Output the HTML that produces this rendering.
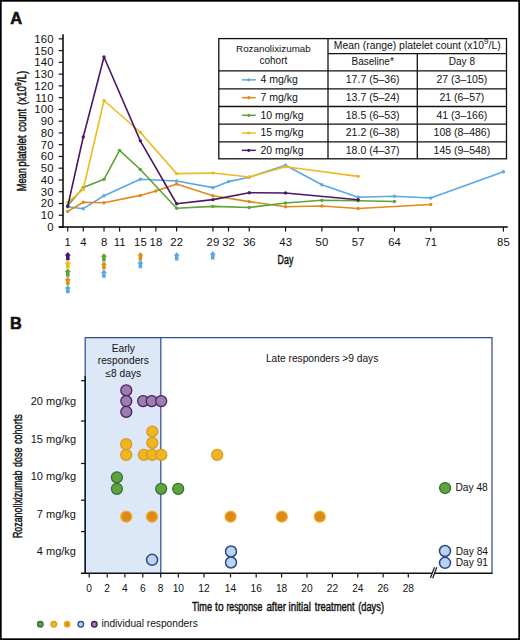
<!DOCTYPE html>
<html><head><meta charset="utf-8"><style>
html,body{margin:0;padding:0;background:#fff;}
body{width:520px;height:640px;overflow:hidden;}
svg{display:block;font-family:"Liberation Sans", sans-serif;}
</style></head><body>
<svg width="520" height="640" viewBox="0 0 520 640">
<rect x="0" y="0" width="520" height="640" fill="#fff"/>
<text x="10.2" y="24" font-weight="bold" font-size="16.5" fill="#111" stroke="#111" stroke-width="0.6">A</text>
<line x1="63" y1="34.3" x2="63" y2="227.7" stroke="#000" stroke-width="1.5"/>
<line x1="58.7" y1="227.00" x2="63" y2="227.00" stroke="#111" stroke-width="1.2"/>
<text x="53.6" y="231.00" text-anchor="end" font-size="11.3" letter-spacing="0.15" fill="#111">0</text>
<line x1="58.7" y1="215.24" x2="63" y2="215.24" stroke="#111" stroke-width="1.2"/>
<text x="53.6" y="219.24" text-anchor="end" font-size="11.3" letter-spacing="0.15" fill="#111">10</text>
<line x1="58.7" y1="203.48" x2="63" y2="203.48" stroke="#111" stroke-width="1.2"/>
<text x="53.6" y="207.48" text-anchor="end" font-size="11.3" letter-spacing="0.15" fill="#111">20</text>
<line x1="58.7" y1="191.72" x2="63" y2="191.72" stroke="#111" stroke-width="1.2"/>
<text x="53.6" y="195.72" text-anchor="end" font-size="11.3" letter-spacing="0.15" fill="#111">30</text>
<line x1="58.7" y1="179.96" x2="63" y2="179.96" stroke="#111" stroke-width="1.2"/>
<text x="53.6" y="183.96" text-anchor="end" font-size="11.3" letter-spacing="0.15" fill="#111">40</text>
<line x1="58.7" y1="168.20" x2="63" y2="168.20" stroke="#111" stroke-width="1.2"/>
<text x="53.6" y="172.20" text-anchor="end" font-size="11.3" letter-spacing="0.15" fill="#111">50</text>
<line x1="58.7" y1="156.44" x2="63" y2="156.44" stroke="#111" stroke-width="1.2"/>
<text x="53.6" y="160.44" text-anchor="end" font-size="11.3" letter-spacing="0.15" fill="#111">60</text>
<line x1="58.7" y1="144.68" x2="63" y2="144.68" stroke="#111" stroke-width="1.2"/>
<text x="53.6" y="148.68" text-anchor="end" font-size="11.3" letter-spacing="0.15" fill="#111">70</text>
<line x1="58.7" y1="132.92" x2="63" y2="132.92" stroke="#111" stroke-width="1.2"/>
<text x="53.6" y="136.92" text-anchor="end" font-size="11.3" letter-spacing="0.15" fill="#111">80</text>
<line x1="58.7" y1="121.16" x2="63" y2="121.16" stroke="#111" stroke-width="1.2"/>
<text x="53.6" y="125.16" text-anchor="end" font-size="11.3" letter-spacing="0.15" fill="#111">90</text>
<line x1="58.7" y1="109.40" x2="63" y2="109.40" stroke="#111" stroke-width="1.2"/>
<text x="53.6" y="113.40" text-anchor="end" font-size="11.3" letter-spacing="0.15" fill="#111">100</text>
<line x1="58.7" y1="97.64" x2="63" y2="97.64" stroke="#111" stroke-width="1.2"/>
<text x="53.6" y="101.64" text-anchor="end" font-size="11.3" letter-spacing="0.15" fill="#111">110</text>
<line x1="58.7" y1="85.88" x2="63" y2="85.88" stroke="#111" stroke-width="1.2"/>
<text x="53.6" y="89.88" text-anchor="end" font-size="11.3" letter-spacing="0.15" fill="#111">120</text>
<line x1="58.7" y1="74.12" x2="63" y2="74.12" stroke="#111" stroke-width="1.2"/>
<text x="53.6" y="78.12" text-anchor="end" font-size="11.3" letter-spacing="0.15" fill="#111">130</text>
<line x1="58.7" y1="62.36" x2="63" y2="62.36" stroke="#111" stroke-width="1.2"/>
<text x="53.6" y="66.36" text-anchor="end" font-size="11.3" letter-spacing="0.15" fill="#111">140</text>
<line x1="58.7" y1="50.60" x2="63" y2="50.60" stroke="#111" stroke-width="1.2"/>
<text x="53.6" y="54.60" text-anchor="end" font-size="11.3" letter-spacing="0.15" fill="#111">150</text>
<line x1="58.7" y1="38.84" x2="63" y2="38.84" stroke="#111" stroke-width="1.2"/>
<text x="53.6" y="42.84" text-anchor="end" font-size="11.3" letter-spacing="0.15" fill="#111">160</text>
<line x1="58.7" y1="227.0" x2="507.7" y2="227.0" stroke="#000" stroke-width="1.5"/>
<line x1="67.70" y1="227.0" x2="67.70" y2="231.6" stroke="#111" stroke-width="1.2"/>
<text x="67.80" y="245.9" text-anchor="middle" font-size="11.3" letter-spacing="0.15" fill="#111">1</text>
<line x1="83.26" y1="227.0" x2="83.26" y2="231.6" stroke="#111" stroke-width="1.2"/>
<text x="83.36" y="245.9" text-anchor="middle" font-size="11.3" letter-spacing="0.15" fill="#111">4</text>
<line x1="104.01" y1="227.0" x2="104.01" y2="231.6" stroke="#111" stroke-width="1.2"/>
<text x="104.11" y="245.9" text-anchor="middle" font-size="11.3" letter-spacing="0.15" fill="#111">8</text>
<line x1="119.57" y1="227.0" x2="119.57" y2="231.6" stroke="#111" stroke-width="1.2"/>
<text x="119.67" y="245.9" text-anchor="middle" font-size="11.3" letter-spacing="0.15" fill="#111">11</text>
<line x1="140.32" y1="227.0" x2="140.32" y2="231.6" stroke="#111" stroke-width="1.2"/>
<text x="140.42" y="245.9" text-anchor="middle" font-size="11.3" letter-spacing="0.15" fill="#111">15</text>
<line x1="155.88" y1="227.0" x2="155.88" y2="231.6" stroke="#111" stroke-width="1.2"/>
<text x="155.98" y="245.9" text-anchor="middle" font-size="11.3" letter-spacing="0.15" fill="#111">18</text>
<line x1="176.63" y1="227.0" x2="176.63" y2="231.6" stroke="#111" stroke-width="1.2"/>
<text x="176.73" y="245.9" text-anchor="middle" font-size="11.3" letter-spacing="0.15" fill="#111">22</text>
<line x1="212.94" y1="227.0" x2="212.94" y2="231.6" stroke="#111" stroke-width="1.2"/>
<text x="213.04" y="245.9" text-anchor="middle" font-size="11.3" letter-spacing="0.15" fill="#111">29</text>
<line x1="228.50" y1="227.0" x2="228.50" y2="231.6" stroke="#111" stroke-width="1.2"/>
<text x="228.60" y="245.9" text-anchor="middle" font-size="11.3" letter-spacing="0.15" fill="#111">32</text>
<line x1="249.25" y1="227.0" x2="249.25" y2="231.6" stroke="#111" stroke-width="1.2"/>
<text x="249.34" y="245.9" text-anchor="middle" font-size="11.3" letter-spacing="0.15" fill="#111">36</text>
<line x1="285.55" y1="227.0" x2="285.55" y2="231.6" stroke="#111" stroke-width="1.2"/>
<text x="285.65" y="245.9" text-anchor="middle" font-size="11.3" letter-spacing="0.15" fill="#111">43</text>
<line x1="321.86" y1="227.0" x2="321.86" y2="231.6" stroke="#111" stroke-width="1.2"/>
<text x="321.96" y="245.9" text-anchor="middle" font-size="11.3" letter-spacing="0.15" fill="#111">50</text>
<line x1="358.17" y1="227.0" x2="358.17" y2="231.6" stroke="#111" stroke-width="1.2"/>
<text x="358.27" y="245.9" text-anchor="middle" font-size="11.3" letter-spacing="0.15" fill="#111">57</text>
<line x1="394.48" y1="227.0" x2="394.48" y2="231.6" stroke="#111" stroke-width="1.2"/>
<text x="394.58" y="245.9" text-anchor="middle" font-size="11.3" letter-spacing="0.15" fill="#111">64</text>
<line x1="430.79" y1="227.0" x2="430.79" y2="231.6" stroke="#111" stroke-width="1.2"/>
<text x="430.89" y="245.9" text-anchor="middle" font-size="11.3" letter-spacing="0.15" fill="#111">71</text>
<line x1="503.41" y1="227.0" x2="503.41" y2="231.6" stroke="#111" stroke-width="1.2"/>
<text x="503.51" y="245.9" text-anchor="middle" font-size="11.3" letter-spacing="0.15" fill="#111">85</text>
<polyline points="67.70,206.68 83.26,208.68 104.01,195.75 140.32,179.28 176.63,181.05 212.94,187.63 228.50,181.64 249.25,177.28 285.55,165.29 321.86,184.81 358.17,197.28 394.48,196.22 430.79,197.98 503.41,171.76" fill="none" stroke="#5aa8e6" stroke-width="1.6" stroke-linejoin="round"/>
<circle cx="67.70" cy="206.68" r="1.7" fill="#5aa8e6"/>
<circle cx="83.26" cy="208.68" r="1.7" fill="#5aa8e6"/>
<circle cx="104.01" cy="195.75" r="1.7" fill="#5aa8e6"/>
<circle cx="140.32" cy="179.28" r="1.7" fill="#5aa8e6"/>
<circle cx="176.63" cy="181.05" r="1.7" fill="#5aa8e6"/>
<circle cx="212.94" cy="187.63" r="1.7" fill="#5aa8e6"/>
<circle cx="228.50" cy="181.64" r="1.7" fill="#5aa8e6"/>
<circle cx="249.25" cy="177.28" r="1.7" fill="#5aa8e6"/>
<circle cx="285.55" cy="165.29" r="1.7" fill="#5aa8e6"/>
<circle cx="321.86" cy="184.81" r="1.7" fill="#5aa8e6"/>
<circle cx="358.17" cy="197.28" r="1.7" fill="#5aa8e6"/>
<circle cx="394.48" cy="196.22" r="1.7" fill="#5aa8e6"/>
<circle cx="430.79" cy="197.98" r="1.7" fill="#5aa8e6"/>
<circle cx="503.41" cy="171.76" r="1.7" fill="#5aa8e6"/>
<polyline points="67.70,211.39 83.26,202.22 104.01,202.80 140.32,195.40 155.88,191.04 176.63,183.99 212.94,195.75 249.25,201.63 285.55,206.80 321.86,205.98 358.17,208.45 430.79,204.45" fill="none" stroke="#e08a1c" stroke-width="1.6" stroke-linejoin="round"/>
<circle cx="67.70" cy="211.39" r="1.7" fill="#e08a1c"/>
<circle cx="83.26" cy="202.22" r="1.7" fill="#e08a1c"/>
<circle cx="104.01" cy="202.80" r="1.7" fill="#e08a1c"/>
<circle cx="140.32" cy="195.40" r="1.7" fill="#e08a1c"/>
<circle cx="155.88" cy="191.04" r="1.7" fill="#e08a1c"/>
<circle cx="176.63" cy="183.99" r="1.7" fill="#e08a1c"/>
<circle cx="212.94" cy="195.75" r="1.7" fill="#e08a1c"/>
<circle cx="249.25" cy="201.63" r="1.7" fill="#e08a1c"/>
<circle cx="285.55" cy="206.80" r="1.7" fill="#e08a1c"/>
<circle cx="321.86" cy="205.98" r="1.7" fill="#e08a1c"/>
<circle cx="358.17" cy="208.45" r="1.7" fill="#e08a1c"/>
<circle cx="430.79" cy="204.45" r="1.7" fill="#e08a1c"/>
<polyline points="67.70,205.74 83.26,187.52 104.01,179.28 119.57,150.35 140.32,169.52 176.63,208.21 212.94,206.33 249.25,207.51 285.55,203.04 321.86,200.22 358.17,200.80 394.48,201.51" fill="none" stroke="#5ba436" stroke-width="1.6" stroke-linejoin="round"/>
<circle cx="67.70" cy="205.74" r="1.7" fill="#5ba436"/>
<circle cx="83.26" cy="187.52" r="1.7" fill="#5ba436"/>
<circle cx="104.01" cy="179.28" r="1.7" fill="#5ba436"/>
<circle cx="119.57" cy="150.35" r="1.7" fill="#5ba436"/>
<circle cx="140.32" cy="169.52" r="1.7" fill="#5ba436"/>
<circle cx="176.63" cy="208.21" r="1.7" fill="#5ba436"/>
<circle cx="212.94" cy="206.33" r="1.7" fill="#5ba436"/>
<circle cx="249.25" cy="207.51" r="1.7" fill="#5ba436"/>
<circle cx="285.55" cy="203.04" r="1.7" fill="#5ba436"/>
<circle cx="321.86" cy="200.22" r="1.7" fill="#5ba436"/>
<circle cx="358.17" cy="200.80" r="1.7" fill="#5ba436"/>
<circle cx="394.48" cy="201.51" r="1.7" fill="#5ba436"/>
<polyline points="67.70,202.57 83.26,189.16 104.01,100.49 140.32,132.24 176.63,173.64 212.94,172.93 249.25,177.05 285.55,166.70 358.17,176.34" fill="none" stroke="#efba1c" stroke-width="1.6" stroke-linejoin="round"/>
<circle cx="67.70" cy="202.57" r="1.7" fill="#efba1c"/>
<circle cx="83.26" cy="189.16" r="1.7" fill="#efba1c"/>
<circle cx="104.01" cy="100.49" r="1.7" fill="#efba1c"/>
<circle cx="140.32" cy="132.24" r="1.7" fill="#efba1c"/>
<circle cx="176.63" cy="173.64" r="1.7" fill="#efba1c"/>
<circle cx="212.94" cy="172.93" r="1.7" fill="#efba1c"/>
<circle cx="249.25" cy="177.05" r="1.7" fill="#efba1c"/>
<circle cx="285.55" cy="166.70" r="1.7" fill="#efba1c"/>
<circle cx="358.17" cy="176.34" r="1.7" fill="#efba1c"/>
<polyline points="67.70,206.33 83.26,136.95 104.01,56.98 140.32,140.83 176.63,203.74 212.94,199.63 249.25,192.69 285.55,192.93 358.17,199.75" fill="none" stroke="#4b1766" stroke-width="1.6" stroke-linejoin="round"/>
<circle cx="67.70" cy="206.33" r="1.7" fill="#4b1766"/>
<circle cx="83.26" cy="136.95" r="1.7" fill="#4b1766"/>
<circle cx="104.01" cy="56.98" r="1.7" fill="#4b1766"/>
<circle cx="140.32" cy="140.83" r="1.7" fill="#4b1766"/>
<circle cx="176.63" cy="203.74" r="1.7" fill="#4b1766"/>
<circle cx="212.94" cy="199.63" r="1.7" fill="#4b1766"/>
<circle cx="249.25" cy="192.69" r="1.7" fill="#4b1766"/>
<circle cx="285.55" cy="192.93" r="1.7" fill="#4b1766"/>
<circle cx="358.17" cy="199.75" r="1.7" fill="#4b1766"/>
<path d="M67.80,252.10 L70.90,255.50 L69.60,255.50 L69.60,260.30 L66.00,260.30 L66.00,255.50 L64.70,255.50 Z" fill="#4b1766"/>
<path d="M67.80,260.35 L70.90,263.75 L69.60,263.75 L69.60,268.55 L66.00,268.55 L66.00,263.75 L64.70,263.75 Z" fill="#efba1c"/>
<path d="M67.80,268.60 L70.90,272.00 L69.60,272.00 L69.60,276.80 L66.00,276.80 L66.00,272.00 L64.70,272.00 Z" fill="#5ba436"/>
<path d="M67.80,276.85 L70.90,280.25 L69.60,280.25 L69.60,285.05 L66.00,285.05 L66.00,280.25 L64.70,280.25 Z" fill="#e08a1c"/>
<path d="M67.80,285.10 L70.90,288.50 L69.60,288.50 L69.60,293.30 L66.00,293.30 L66.00,288.50 L64.70,288.50 Z" fill="#5aa8e6"/>
<path d="M103.90,253.30 L107.00,256.70 L105.70,256.70 L105.70,261.50 L102.10,261.50 L102.10,256.70 L100.80,256.70 Z" fill="#5ba436"/>
<path d="M103.90,261.40 L107.00,264.80 L105.70,264.80 L105.70,269.60 L102.10,269.60 L102.10,264.80 L100.80,264.80 Z" fill="#e08a1c"/>
<path d="M103.90,269.50 L107.00,272.90 L105.70,272.90 L105.70,277.70 L102.10,277.70 L102.10,272.90 L100.80,272.90 Z" fill="#5aa8e6"/>
<path d="M140.40,252.20 L143.50,255.60 L142.20,255.60 L142.20,260.40 L138.60,260.40 L138.60,255.60 L137.30,255.60 Z" fill="#e08a1c"/>
<path d="M140.40,260.00 L143.50,263.40 L142.20,263.40 L142.20,268.20 L138.60,268.20 L138.60,263.40 L137.30,263.40 Z" fill="#5aa8e6"/>
<path d="M176.70,252.20 L179.80,255.60 L178.50,255.60 L178.50,260.40 L174.90,260.40 L174.90,255.60 L173.60,255.60 Z" fill="#5aa8e6"/>
<path d="M212.80,251.20 L215.90,254.60 L214.60,254.60 L214.60,259.40 L211.00,259.40 L211.00,254.60 L209.70,254.60 Z" fill="#5aa8e6"/>
<rect x="218.8" y="38.6" width="287.7" height="120.20000000000002" fill="#fff" stroke="#111" stroke-width="1.3"/>
<line x1="328.0" y1="38.6" x2="328.0" y2="158.8" stroke="#111" stroke-width="1.3"/>
<line x1="417.3" y1="53.6" x2="417.3" y2="158.8" stroke="#111" stroke-width="1.3"/>
<line x1="328.0" y1="53.6" x2="506.5" y2="53.6" stroke="#111" stroke-width="1.3"/>
<line x1="218.8" y1="70.9" x2="506.5" y2="70.9" stroke="#111" stroke-width="1.3"/>
<line x1="218.8" y1="88.8" x2="506.5" y2="88.8" stroke="#111" stroke-width="1.3"/>
<line x1="218.8" y1="106.5" x2="506.5" y2="106.5" stroke="#111" stroke-width="1.3"/>
<line x1="218.8" y1="124.1" x2="506.5" y2="124.1" stroke="#111" stroke-width="1.3"/>
<line x1="218.8" y1="141.9" x2="506.5" y2="141.9" stroke="#111" stroke-width="1.3"/>
<text x="273.40" y="52" text-anchor="middle" font-size="9.8" fill="#111">Rozanolixizumab</text>
<text x="273.40" y="63.8" text-anchor="middle" font-size="10" fill="#111">cohort</text>
<text x="417.25" y="49.4" text-anchor="middle" font-size="10.4" fill="#111">Mean (range) platelet count (x10<tspan font-size="8" dy="-5.3">9</tspan><tspan dy="5.3">/L)</tspan></text>
<text x="372.65" y="65.4" text-anchor="middle" font-size="10" fill="#111">Baseline*</text>
<text x="461.90" y="65.4" text-anchor="middle" font-size="10" fill="#111">Day 8</text>
<line x1="241.9" y1="79.85" x2="255.8" y2="79.85" stroke="#5aa8e6" stroke-width="1.5"/>
<circle cx="248.8" cy="79.85" r="1.6" fill="#5aa8e6"/>
<text x="260.4" y="83.25" font-size="10.5" fill="#111">4 mg/kg</text>
<text x="372.65" y="83.25" text-anchor="middle" font-size="10.5" fill="#111">17.7 (5–36)</text>
<text x="461.90" y="83.25" text-anchor="middle" font-size="10.5" fill="#111">27 (3–105)</text>
<line x1="241.9" y1="97.65" x2="255.8" y2="97.65" stroke="#e08a1c" stroke-width="1.5"/>
<circle cx="248.8" cy="97.65" r="1.6" fill="#e08a1c"/>
<text x="260.4" y="101.05" font-size="10.5" fill="#111">7 mg/kg</text>
<text x="372.65" y="101.05" text-anchor="middle" font-size="10.5" fill="#111">13.7 (5–24)</text>
<text x="461.90" y="101.05" text-anchor="middle" font-size="10.5" fill="#111">21 (6–57)</text>
<line x1="241.9" y1="115.30" x2="255.8" y2="115.30" stroke="#5ba436" stroke-width="1.5"/>
<circle cx="248.8" cy="115.30" r="1.6" fill="#5ba436"/>
<text x="260.4" y="118.70" font-size="10.5" fill="#111">10 mg/kg</text>
<text x="372.65" y="118.70" text-anchor="middle" font-size="10.5" fill="#111">18.5 (6–53)</text>
<text x="461.90" y="118.70" text-anchor="middle" font-size="10.5" fill="#111">41 (3–166)</text>
<line x1="241.9" y1="133.00" x2="255.8" y2="133.00" stroke="#efba1c" stroke-width="1.5"/>
<circle cx="248.8" cy="133.00" r="1.6" fill="#efba1c"/>
<text x="260.4" y="136.40" font-size="10.5" fill="#111">15 mg/kg</text>
<text x="372.65" y="136.40" text-anchor="middle" font-size="10.5" fill="#111">21.2 (6–38)</text>
<text x="461.90" y="136.40" text-anchor="middle" font-size="10.5" fill="#111">108 (8–486)</text>
<line x1="241.9" y1="150.35" x2="255.8" y2="150.35" stroke="#4b1766" stroke-width="1.5"/>
<circle cx="248.8" cy="150.35" r="1.6" fill="#4b1766"/>
<text x="260.4" y="153.75" font-size="10.5" fill="#111">20 mg/kg</text>
<text x="372.65" y="153.75" text-anchor="middle" font-size="10.5" fill="#111">18.0 (4–37)</text>
<text x="461.90" y="153.75" text-anchor="middle" font-size="10.5" fill="#111">145 (9–548)</text>
<text x="10.0" y="328.7" font-weight="bold" font-size="16.3" fill="#111" stroke="#111" stroke-width="0.6">B</text>
<rect x="85.2" y="337.5" width="75.60000000000001" height="235.70000000000005" fill="#dce7f7"/>
<polyline points="85.2,573.2 85.2,337.5 492.0,337.5 492.0,573.2" fill="none" stroke="#33508e" stroke-width="1.25"/>
<line x1="160.8" y1="337.5" x2="160.8" y2="573.2" stroke="#33508e" stroke-width="1.25"/>
<line x1="85.2" y1="376" x2="85.2" y2="573.2" stroke="#111" stroke-width="1.4"/>
<line x1="81" y1="380.7" x2="85.2" y2="380.7" stroke="#111" stroke-width="1.2"/>
<line x1="81" y1="421.0" x2="85.2" y2="421.0" stroke="#111" stroke-width="1.2"/>
<line x1="81" y1="463.5" x2="85.2" y2="463.5" stroke="#111" stroke-width="1.2"/>
<line x1="81" y1="500.2" x2="85.2" y2="500.2" stroke="#111" stroke-width="1.2"/>
<line x1="81" y1="531.6" x2="85.2" y2="531.6" stroke="#111" stroke-width="1.2"/>
<line x1="81" y1="573.2" x2="492.6" y2="573.2" stroke="#111" stroke-width="1.4"/>
<line x1="89.2" y1="573.2" x2="89.2" y2="577.4" stroke="#111" stroke-width="1.2"/>
<text x="89.2" y="591.8" text-anchor="middle" font-size="10.2" fill="#111">0</text>
<line x1="107.2" y1="573.2" x2="107.2" y2="577.4" stroke="#111" stroke-width="1.2"/>
<text x="107.2" y="591.8" text-anchor="middle" font-size="10.2" fill="#111">2</text>
<line x1="124.9" y1="573.2" x2="124.9" y2="577.4" stroke="#111" stroke-width="1.2"/>
<text x="124.9" y="591.8" text-anchor="middle" font-size="10.2" fill="#111">4</text>
<line x1="142.8" y1="573.2" x2="142.8" y2="577.4" stroke="#111" stroke-width="1.2"/>
<text x="142.8" y="591.8" text-anchor="middle" font-size="10.2" fill="#111">6</text>
<line x1="160.7" y1="573.2" x2="160.7" y2="577.4" stroke="#111" stroke-width="1.2"/>
<text x="160.7" y="591.8" text-anchor="middle" font-size="10.2" fill="#111">8</text>
<line x1="178.3" y1="573.2" x2="178.3" y2="577.4" stroke="#111" stroke-width="1.2"/>
<text x="178.3" y="591.8" text-anchor="middle" font-size="10.2" fill="#111">10</text>
<line x1="204.0" y1="573.2" x2="204.0" y2="577.4" stroke="#111" stroke-width="1.2"/>
<text x="204.0" y="591.8" text-anchor="middle" font-size="10.2" fill="#111">12</text>
<line x1="230.5" y1="573.2" x2="230.5" y2="577.4" stroke="#111" stroke-width="1.2"/>
<text x="230.5" y="591.8" text-anchor="middle" font-size="10.2" fill="#111">14</text>
<line x1="256.2" y1="573.2" x2="256.2" y2="577.4" stroke="#111" stroke-width="1.2"/>
<text x="256.2" y="591.8" text-anchor="middle" font-size="10.2" fill="#111">16</text>
<line x1="281.6" y1="573.2" x2="281.6" y2="577.4" stroke="#111" stroke-width="1.2"/>
<text x="281.6" y="591.8" text-anchor="middle" font-size="10.2" fill="#111">18</text>
<line x1="307.0" y1="573.2" x2="307.0" y2="577.4" stroke="#111" stroke-width="1.2"/>
<text x="307.0" y="591.8" text-anchor="middle" font-size="10.2" fill="#111">20</text>
<line x1="332.4" y1="573.2" x2="332.4" y2="577.4" stroke="#111" stroke-width="1.2"/>
<text x="332.4" y="591.8" text-anchor="middle" font-size="10.2" fill="#111">22</text>
<line x1="357.8" y1="573.2" x2="357.8" y2="577.4" stroke="#111" stroke-width="1.2"/>
<text x="357.8" y="591.8" text-anchor="middle" font-size="10.2" fill="#111">24</text>
<line x1="383.1" y1="573.2" x2="383.1" y2="577.4" stroke="#111" stroke-width="1.2"/>
<text x="383.1" y="591.8" text-anchor="middle" font-size="10.2" fill="#111">26</text>
<line x1="408.3" y1="573.2" x2="408.3" y2="577.4" stroke="#111" stroke-width="1.2"/>
<text x="408.3" y="591.8" text-anchor="middle" font-size="10.2" fill="#111">28</text>
<path d="M430.5,578 L434.6,567.3 L436.8,567.3 L432.7,578 Z" fill="#fff"/>
<path d="M430.4,578 L434.5,567.3 M432.7,578.2 L436.8,567.3" stroke="#111" stroke-width="1.15" fill="none"/>
<text x="123.3" y="351.7" text-anchor="middle" font-size="10.2" fill="#111">Early</text>
<text x="123.3" y="364.4" text-anchor="middle" font-size="10.2" fill="#111">responders</text>
<text x="123.3" y="377" text-anchor="middle" font-size="10.2" fill="#111">≤8 days</text>
<text x="265.9" y="362.3" font-size="10.2" fill="#111">Late responders &gt;9 days</text>
<text x="76" y="405" text-anchor="end" font-size="11" fill="#111">20 mg/kg</text>
<text x="76" y="442.6" text-anchor="end" font-size="11" fill="#111">15 mg/kg</text>
<text x="76" y="480.2" text-anchor="end" font-size="11" fill="#111">10 mg/kg</text>
<text x="76" y="517.8" text-anchor="end" font-size="11" fill="#111">7 mg/kg</text>
<text x="76" y="555.4" text-anchor="end" font-size="11" fill="#111">4 mg/kg</text>
<circle cx="126.3" cy="390.4" r="5.5" fill="#9a7faa" stroke="#4f1b63" stroke-width="1.25"/>
<circle cx="126.3" cy="401.1" r="5.5" fill="#9a7faa" stroke="#4f1b63" stroke-width="1.25"/>
<circle cx="126.3" cy="411.9" r="5.5" fill="#9a7faa" stroke="#4f1b63" stroke-width="1.25"/>
<circle cx="143.1" cy="401.1" r="5.5" fill="#9a7faa" stroke="#4f1b63" stroke-width="1.25"/>
<circle cx="151.7" cy="401.1" r="5.5" fill="#9a7faa" stroke="#4f1b63" stroke-width="1.25"/>
<circle cx="161.2" cy="401.1" r="5.5" fill="#9a7faa" stroke="#4f1b63" stroke-width="1.25"/>
<circle cx="126.2" cy="444.2" r="5.5" fill="#ecb722" stroke="#df961e" stroke-width="1.25"/>
<circle cx="126.2" cy="454.8" r="5.5" fill="#ecb722" stroke="#df961e" stroke-width="1.25"/>
<circle cx="143.9" cy="454.8" r="5.5" fill="#ecb722" stroke="#df961e" stroke-width="1.25"/>
<circle cx="152.3" cy="431.5" r="5.5" fill="#ecb722" stroke="#df961e" stroke-width="1.25"/>
<circle cx="152.3" cy="442.9" r="5.5" fill="#ecb722" stroke="#df961e" stroke-width="1.25"/>
<circle cx="152.3" cy="454.8" r="5.5" fill="#ecb722" stroke="#df961e" stroke-width="1.25"/>
<circle cx="161.3" cy="454.8" r="5.5" fill="#ecb722" stroke="#df961e" stroke-width="1.25"/>
<circle cx="217.2" cy="454.8" r="5.5" fill="#ecb722" stroke="#df961e" stroke-width="1.25"/>
<circle cx="116.9" cy="477.3" r="5.5" fill="#5ea43c" stroke="#356f34" stroke-width="1.25"/>
<circle cx="116.9" cy="488.8" r="5.5" fill="#5ea43c" stroke="#356f34" stroke-width="1.25"/>
<circle cx="161.2" cy="488.8" r="5.5" fill="#5ea43c" stroke="#356f34" stroke-width="1.25"/>
<circle cx="178.2" cy="488.8" r="5.5" fill="#5ea43c" stroke="#356f34" stroke-width="1.25"/>
<circle cx="445.1" cy="488.0" r="5.5" fill="#5ea43c" stroke="#356f34" stroke-width="1.25"/>
<circle cx="126.3" cy="516.7" r="5.5" fill="#de891b" stroke="#efb224" stroke-width="1.25"/>
<circle cx="152.0" cy="516.7" r="5.5" fill="#de891b" stroke="#efb224" stroke-width="1.25"/>
<circle cx="230.6" cy="516.7" r="5.5" fill="#de891b" stroke="#efb224" stroke-width="1.25"/>
<circle cx="281.8" cy="516.7" r="5.5" fill="#de891b" stroke="#efb224" stroke-width="1.25"/>
<circle cx="319.8" cy="516.7" r="5.5" fill="#de891b" stroke="#efb224" stroke-width="1.25"/>
<circle cx="152.1" cy="559.8" r="5.5" fill="#bad3f1" stroke="#2b4a86" stroke-width="1.5"/>
<circle cx="231.0" cy="551.5" r="5.5" fill="#bad3f1" stroke="#2b4a86" stroke-width="1.5"/>
<circle cx="231.0" cy="562.5" r="5.5" fill="#bad3f1" stroke="#2b4a86" stroke-width="1.5"/>
<circle cx="445.0" cy="551.0" r="5.5" fill="#bad3f1" stroke="#2b4a86" stroke-width="1.5"/>
<circle cx="445.0" cy="562.8" r="5.5" fill="#bad3f1" stroke="#2b4a86" stroke-width="1.5"/>
<text x="455.5" y="490.8" font-size="10.2" fill="#111">Day 48</text>
<text x="455.7" y="554.6" font-size="10.2" fill="#111">Day 84</text>
<text x="455.7" y="565.8" font-size="10.2" fill="#111">Day 91</text>
<circle cx="40.3" cy="624.3" r="2.8" fill="#5ea43c" stroke="#356f34" stroke-width="1.3"/>
<circle cx="53.8" cy="624.3" r="2.8" fill="#ecb722" stroke="#df961e" stroke-width="1.3"/>
<circle cx="67.2" cy="624.3" r="2.8" fill="#de891b" stroke="#efb224" stroke-width="1.3"/>
<circle cx="80.8" cy="624.3" r="2.8" fill="#bad3f1" stroke="#2b4a86" stroke-width="1.3"/>
<circle cx="94.3" cy="624.3" r="2.8" fill="#9a7faa" stroke="#4f1b63" stroke-width="1.3"/>
<text x="101.5" y="627.3" font-size="10.2" fill="#111">individual responders</text>
<text x="277.60" y="264.2" font-size="13" stroke="#111" stroke-width="0.45" textLength="15.70" lengthAdjust="spacingAndGlyphs" fill="#111">Day</text>
<text transform="translate(26,191.30) rotate(-90)" font-size="13" stroke="#111" stroke-width="0.45" textLength="23.20" lengthAdjust="spacingAndGlyphs" fill="#111">Mean</text>
<text transform="translate(26,166.70) rotate(-90)" font-size="13" stroke="#111" stroke-width="0.45" textLength="31.40" lengthAdjust="spacingAndGlyphs" fill="#111">platelet</text>
<text transform="translate(26,131.70) rotate(-90)" font-size="13" stroke="#111" stroke-width="0.45" textLength="22.80" lengthAdjust="spacingAndGlyphs" fill="#111">count</text>
<text transform="translate(26,105.00) rotate(-90)" font-size="13" stroke="#111" stroke-width="0.45" textLength="34.30" lengthAdjust="spacingAndGlyphs" fill="#111">(x10<tspan font-size="9" dy="-5.3">9</tspan><tspan dy="5.3">/L)</tspan></text>
<text transform="translate(21.5,538.10) rotate(-90)" font-size="13" stroke="#111" stroke-width="0.45" textLength="67.50" lengthAdjust="spacingAndGlyphs" fill="#111">Rozanolixizumab</text>
<text transform="translate(21.5,467.00) rotate(-90)" font-size="13" stroke="#111" stroke-width="0.45" textLength="19.40" lengthAdjust="spacingAndGlyphs" fill="#111">dose</text>
<text transform="translate(21.5,444.00) rotate(-90)" font-size="13" stroke="#111" stroke-width="0.45" textLength="29.70" lengthAdjust="spacingAndGlyphs" fill="#111">cohorts</text>
<text x="192.00" y="610.9" font-size="13" stroke="#111" stroke-width="0.45" textLength="20.00" lengthAdjust="spacingAndGlyphs" fill="#111">Time</text>
<text x="215.10" y="610.9" font-size="13" stroke="#111" stroke-width="0.45" textLength="8.50" lengthAdjust="spacingAndGlyphs" fill="#111">to</text>
<text x="226.40" y="610.9" font-size="13" stroke="#111" stroke-width="0.45" textLength="35.90" lengthAdjust="spacingAndGlyphs" fill="#111">response</text>
<text x="266.40" y="610.9" font-size="13" stroke="#111" stroke-width="0.45" textLength="19.60" lengthAdjust="spacingAndGlyphs" fill="#111">after</text>
<text x="288.60" y="610.9" font-size="13" stroke="#111" stroke-width="0.45" textLength="22.20" lengthAdjust="spacingAndGlyphs" fill="#111">initial</text>
<text x="314.80" y="610.9" font-size="13" stroke="#111" stroke-width="0.45" textLength="39.80" lengthAdjust="spacingAndGlyphs" fill="#111">treatment</text>
<text x="358.20" y="610.9" font-size="13" stroke="#111" stroke-width="0.45" textLength="25.80" lengthAdjust="spacingAndGlyphs" fill="#111">(days)</text>
<rect x="0.8" y="0.8" width="518.4" height="638.4" fill="none" stroke="#000" stroke-width="1.8"/>
</svg>
</body></html>
